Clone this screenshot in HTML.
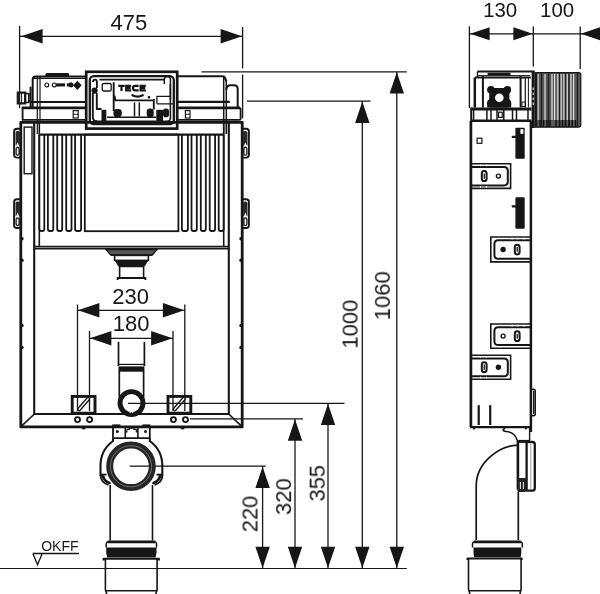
<!DOCTYPE html>
<html><head><meta charset="utf-8"><title>Drawing</title>
<style>
html,body{margin:0;padding:0;background:#fff;}
body{width:600px;height:594px;overflow:hidden;font-family:"Liberation Sans",sans-serif;}
svg{display:block;}
svg text{font-family:"Liberation Sans",sans-serif;will-change:transform;}
</style></head><body>
<svg width="600" height="594" viewBox="0 0 600 594">
<rect x="0" y="0" width="600" height="594" fill="#fff"/>
<line x1="19.6" y1="25.8" x2="19.6" y2="92" stroke="#161616" stroke-width="1.3" stroke-linecap="butt"/>
<line x1="242.6" y1="27" x2="242.6" y2="68.5" stroke="#161616" stroke-width="1.3" stroke-linecap="butt"/>
<line x1="242.6" y1="74.5" x2="242.6" y2="118.4" stroke="#161616" stroke-width="1.3" stroke-linecap="butt"/>
<line x1="19.6" y1="36.3" x2="242.6" y2="36.3" stroke="#161616" stroke-width="1.3" stroke-linecap="butt"/>
<polygon points="21.2,36.3 42.599999999999994,29.099999999999998 42.599999999999994,43.5" fill="#161616"/>
<polygon points="242,36.3 220.6,29.099999999999998 220.6,43.5" fill="#161616"/>
<text x="128.9" y="30" font-size="22" text-anchor="middle" font-weight="normal" letter-spacing="0" fill="#161616">475</text>
<path d="M32.7,107 V79.4 Q32.7,76.4 35.7,76.4 H86" fill="none" stroke="#161616" stroke-width="2" stroke-linejoin="round" stroke-linecap="butt"/>
<line x1="47" y1="74.7" x2="67.6" y2="74.7" stroke="#161616" stroke-width="3.4" stroke-linecap="round"/>
<line x1="37.3" y1="77" x2="37.3" y2="121" stroke="#161616" stroke-width="1.2" stroke-linecap="butt"/>
<line x1="40" y1="77" x2="40" y2="121" stroke="#161616" stroke-width="1.2" stroke-linecap="butt"/>
<line x1="30.6" y1="86.7" x2="30.6" y2="107" stroke="#161616" stroke-width="2" stroke-linecap="butt"/>
<line x1="30.5" y1="102" x2="86" y2="102" stroke="#161616" stroke-width="2.2" stroke-linecap="butt"/>
<line x1="33" y1="78.4" x2="86" y2="78.4" stroke="#161616" stroke-width="1.3" stroke-linecap="butt"/>
<rect x="17.8" y="92.6" width="7.4" height="10.8" rx="0" fill="none" stroke="#161616" stroke-width="2.2"/>
<line x1="19.6" y1="92" x2="19.6" y2="108" stroke="#161616" stroke-width="1.2" stroke-linecap="butt"/>
<line x1="21.6" y1="93" x2="21.6" y2="103" stroke="#161616" stroke-width="1" stroke-linecap="butt"/>
<rect x="25.2" y="93.6" width="3.6" height="8.8" rx="0" fill="none" stroke="#161616" stroke-width="1.6"/>
<line x1="28.8" y1="95" x2="30.6" y2="95" stroke="#161616" stroke-width="1.2" stroke-linecap="butt"/>
<line x1="28.8" y1="101" x2="30.6" y2="101" stroke="#161616" stroke-width="1.2" stroke-linecap="butt"/>
<circle cx="46.8" cy="84.9" r="1.9" fill="none" stroke="#161616" stroke-width="1.2"/>
<circle cx="54.3" cy="84.9" r="1.9" fill="none" stroke="#161616" stroke-width="1.2"/>
<line x1="56.2" y1="84.9" x2="65" y2="84.9" stroke="#161616" stroke-width="3.1" stroke-linecap="butt"/>
<line x1="66.8" y1="84.9" x2="73" y2="84.9" stroke="#161616" stroke-width="3.1" stroke-linecap="butt"/>
<circle cx="71" cy="84.9" r="2.2" fill="#161616" stroke="#161616" stroke-width="0.8"/>
<polygon points="73,85.3 77.4,80.8 81.6,85.3 77.4,90" fill="#161616"/>
<path d="M22.6,107.9 V119.9 H239.4 Q240.6,119.9 240.6,118.7 V109.1 Q240.6,107.9 239.4,107.9" fill="none" stroke="#161616" stroke-width="1.8" stroke-linejoin="round" stroke-linecap="butt"/>
<line x1="21.7" y1="107.9" x2="240" y2="107.9" stroke="#161616" stroke-width="2.6" stroke-linecap="butt"/>
<rect x="73.2" y="110.6" width="5" height="7.4" rx="0" fill="none" stroke="#161616" stroke-width="1.2"/>
<line x1="73.2" y1="114.3" x2="78.2" y2="114.3" stroke="#161616" stroke-width="1" stroke-linecap="butt"/>
<rect x="185.4" y="110.6" width="4.6" height="7.4" rx="0" fill="none" stroke="#161616" stroke-width="1.2"/>
<line x1="185.4" y1="114.3" x2="190" y2="114.3" stroke="#161616" stroke-width="1" stroke-linecap="butt"/>
<path d="M177,76.2 H222.6 Q224.4,76.2 225,78 L226.3,81 M226.3,90 Q226.3,85.3 230.5,85.3 H234 Q237.7,85.3 237.7,89 V107.5" fill="none" stroke="#161616" stroke-width="2" stroke-linejoin="round" stroke-linecap="butt"/>
<line x1="177" y1="101.8" x2="229.8" y2="101.8" stroke="#161616" stroke-width="2.2" stroke-linecap="butt"/>
<line x1="223.7" y1="77" x2="223.7" y2="134" stroke="#161616" stroke-width="1.5" stroke-linecap="butt"/>
<line x1="226.3" y1="80" x2="226.3" y2="134" stroke="#161616" stroke-width="1.5" stroke-linecap="butt"/>
<rect x="86.2" y="71.8" width="91" height="56.8" rx="0" fill="#fff" stroke="#161616" stroke-width="2.7"/>
<rect x="89.8" y="76.2" width="84" height="48" rx="4" fill="none" stroke="#161616" stroke-width="2.3"/>
<path d="M99.5,79.6 H164.5 M170.4,84 V118 Q170.4,121.3 167,121.3 H93 " fill="none" stroke="#161616" stroke-width="1.6" stroke-linejoin="round" stroke-linecap="butt"/>
<path d="M164.3,84 V79.6 Q164.3,76.4 167.4,76.4 Q170.4,76.4 170.4,80 V100" fill="none" stroke="#161616" stroke-width="1.5" stroke-linejoin="round" stroke-linecap="butt"/>
<path d="M93,82 Q93,79.6 95.2,79.6 Q96.9,79.6 96.9,82 V88 M92.8,93 V117 Q92.8,121.3 97,121.3 M96.8,93 V109 H101.5" fill="none" stroke="#161616" stroke-width="1.9" stroke-linejoin="round" stroke-linecap="butt"/>
<circle cx="94.6" cy="90.6" r="3.1" fill="#161616" stroke="#161616" stroke-width="0"/>
<rect x="102.2" y="83.5" width="9" height="7.5" rx="1.6" fill="none" stroke="#161616" stroke-width="1.3"/>
<rect x="101.5" y="109.8" width="4.8" height="13.6" rx="0" fill="#161616" stroke="#161616" stroke-width="0"/>
<path d="M113.7,82.2 V111 M113.7,95 L115.7,100.4 H153.8 M153.8,99 V109.5" fill="none" stroke="#161616" stroke-width="1.9" stroke-linejoin="round" stroke-linecap="butt"/>
<circle cx="114.6" cy="96.6" r="1.1" fill="#161616" stroke="#161616" stroke-width="0"/>
<rect x="113.4" y="109" width="8.4" height="8.2" rx="3.4" fill="#161616" stroke="#161616" stroke-width="0"/>
<line x1="107" y1="117.3" x2="156" y2="117.3" stroke="#161616" stroke-width="1.5" stroke-linecap="butt"/>
<line x1="134.5" y1="102.4" x2="134.5" y2="116.5" stroke="#161616" stroke-width="1.5" stroke-linecap="butt"/>
<line x1="139.3" y1="102.4" x2="139.3" y2="116.5" stroke="#161616" stroke-width="1.5" stroke-linecap="butt"/>
<rect x="146.7" y="108.6" width="7" height="8.6" rx="3.2" fill="#161616" stroke="#161616" stroke-width="0"/>
<path d="M118.3,85.8 H124.7 M121.5,85.8 V91.1 M131.2,85.8 H126.2 V90.3 H131.2 M126.2,88 H130.6 M138.6,85.8 H135.2 Q133,85.8 133,88 Q133,90.3 135.2,90.3 H138.6 M145.8,85.8 H140.6 V90.3 H145.8 M140.6,88 H145.2" fill="none" stroke="#161616" stroke-width="2.2" stroke-linejoin="miter" stroke-linecap="butt"/>
<path d="M132.4,95.2 Q137.6,97.9 142.8,95.2" fill="none" stroke="#161616" stroke-width="2.2" stroke-linejoin="round" stroke-linecap="round"/>
<circle cx="149" cy="97.3" r="1.3" fill="#161616" stroke="#161616" stroke-width="0"/>
<path d="M156.9,103.8 V96.3 H170.4 M156.9,103.8 H173" fill="none" stroke="#161616" stroke-width="1.3" stroke-linejoin="round" stroke-linecap="butt"/>
<rect x="156.3" y="109.8" width="6.7" height="14.6" rx="0" fill="#161616" stroke="#161616" stroke-width="0"/>
<rect x="163" y="108.6" width="6" height="8.6" rx="2.8" fill="#161616" stroke="#161616" stroke-width="0"/>
<path d="M20.8,426.9 V122.3 H242.2 V426.9 Z" fill="none" stroke="#161616" stroke-width="2.8" stroke-linejoin="round" stroke-linecap="butt"/>
<path d="M34.2,122 V414 H228.8 V122" fill="none" stroke="#161616" stroke-width="2.1" stroke-linejoin="miter" stroke-linecap="butt"/>
<line x1="20.7" y1="426.9" x2="34.4" y2="414" stroke="#161616" stroke-width="1.7" stroke-linecap="butt"/>
<line x1="242.3" y1="426.9" x2="228.7" y2="414" stroke="#161616" stroke-width="1.7" stroke-linecap="butt"/>
<rect x="24.2" y="127.1" width="7.8" height="46.6" rx="0" fill="none" stroke="#161616" stroke-width="1.4"/>
<circle cx="22" cy="238.8" r="1.7" fill="#161616" stroke="#161616" stroke-width="0"/>
<circle cx="241" cy="238.8" r="1.7" fill="#161616" stroke="#161616" stroke-width="0"/>
<circle cx="22" cy="260.3" r="1.7" fill="#161616" stroke="#161616" stroke-width="0"/>
<circle cx="241" cy="260.3" r="1.7" fill="#161616" stroke="#161616" stroke-width="0"/>
<circle cx="22" cy="325.5" r="1.7" fill="#161616" stroke="#161616" stroke-width="0"/>
<circle cx="241" cy="325.5" r="1.7" fill="#161616" stroke="#161616" stroke-width="0"/>
<circle cx="22" cy="347.5" r="1.7" fill="#161616" stroke="#161616" stroke-width="0"/>
<circle cx="241" cy="347.5" r="1.7" fill="#161616" stroke="#161616" stroke-width="0"/>
<path d="M20.7,128.8 H16.9 Q14.1,128.8 14.1,131.60000000000002 V154.8 Q14.1,157.60000000000002 16.9,157.60000000000002 H20.7" fill="none" stroke="#161616" stroke-width="1.9" stroke-linejoin="round" stroke-linecap="butt"/>
<rect x="15.5" y="131.0" width="4.6" height="15.6" rx="1.8" fill="#2a2a2a" stroke="#161616" stroke-width="0"/>
<polygon points="19.3,146.60000000000002 15.899999999999999,146.60000000000002 17.599999999999998,142.20000000000002" fill="#fff"/>
<rect x="16.1" y="147.4" width="3.0" height="7.8" rx="1.5" fill="none" stroke="#161616" stroke-width="1.3"/>
<path d="M242.3,128.8 H246.1 Q248.9,128.8 248.9,131.60000000000002 V154.8 Q248.9,157.60000000000002 246.1,157.60000000000002 H242.3" fill="none" stroke="#161616" stroke-width="1.9" stroke-linejoin="round" stroke-linecap="butt"/>
<rect x="242.9" y="131.0" width="4.6" height="15.6" rx="1.8" fill="#2a2a2a" stroke="#161616" stroke-width="0"/>
<polygon points="243.70000000000002,146.60000000000002 247.10000000000002,146.60000000000002 245.4,142.20000000000002" fill="#fff"/>
<rect x="243.9" y="147.4" width="3.0" height="7.8" rx="1.5" fill="none" stroke="#161616" stroke-width="1.3"/>
<path d="M20.7,199.2 H16.9 Q14.1,199.2 14.1,202.0 V225.2 Q14.1,228.0 16.9,228.0 H20.7" fill="none" stroke="#161616" stroke-width="1.9" stroke-linejoin="round" stroke-linecap="butt"/>
<rect x="15.5" y="201.39999999999998" width="4.6" height="15.6" rx="1.8" fill="#2a2a2a" stroke="#161616" stroke-width="0"/>
<polygon points="19.3,217.0 15.899999999999999,217.0 17.599999999999998,212.6" fill="#fff"/>
<rect x="16.1" y="217.79999999999998" width="3.0" height="7.8" rx="1.5" fill="none" stroke="#161616" stroke-width="1.3"/>
<path d="M242.3,199.2 H246.1 Q248.9,199.2 248.9,202.0 V225.2 Q248.9,228.0 246.1,228.0 H242.3" fill="none" stroke="#161616" stroke-width="1.9" stroke-linejoin="round" stroke-linecap="butt"/>
<rect x="242.9" y="201.39999999999998" width="4.6" height="15.6" rx="1.8" fill="#2a2a2a" stroke="#161616" stroke-width="0"/>
<polygon points="243.70000000000002,217.0 247.10000000000002,217.0 245.4,212.6" fill="#fff"/>
<rect x="243.9" y="217.79999999999998" width="3.0" height="7.8" rx="1.5" fill="none" stroke="#161616" stroke-width="1.3"/>
<line x1="39.3" y1="134.6" x2="223.7" y2="134.6" stroke="#161616" stroke-width="2.2" stroke-linecap="butt"/>
<line x1="37.3" y1="122" x2="37.3" y2="134" stroke="#161616" stroke-width="1.2" stroke-linecap="butt"/>
<line x1="39.3" y1="122" x2="39.3" y2="247" stroke="#161616" stroke-width="1.6" stroke-linecap="butt"/>
<line x1="223.7" y1="122" x2="223.7" y2="247" stroke="#161616" stroke-width="1.6" stroke-linecap="butt"/>
<line x1="226.5" y1="122" x2="226.5" y2="134" stroke="#161616" stroke-width="1.2" stroke-linecap="butt"/>
<path d="M39.3,134.6 V229 Q39.3,231 41.3,231 H42.3 Q44.3,231 44.3,229 V134.6" fill="none" stroke="#161616" stroke-width="1.8" stroke-linejoin="round" stroke-linecap="butt"/>
<path d="M218.7,134.6 V229 Q218.7,231 220.7,231 H221.7 Q223.7,231 223.7,229 V134.6" fill="none" stroke="#161616" stroke-width="1.8" stroke-linejoin="round" stroke-linecap="butt"/>
<path d="M47.9,134.6 V229 Q47.9,231 49.9,231 H51.3 Q53.3,231 53.3,229 V134.6" fill="none" stroke="#161616" stroke-width="1.8" stroke-linejoin="round" stroke-linecap="butt"/>
<path d="M209.7,134.6 V229 Q209.7,231 211.7,231 H213.1 Q215.1,231 215.1,229 V134.6" fill="none" stroke="#161616" stroke-width="1.8" stroke-linejoin="round" stroke-linecap="butt"/>
<path d="M57.2,134.6 V229 Q57.2,231 59.2,231 H60.2 Q62.2,231 62.2,229 V134.6" fill="none" stroke="#161616" stroke-width="1.8" stroke-linejoin="round" stroke-linecap="butt"/>
<path d="M200.8,134.6 V229 Q200.8,231 202.8,231 H203.8 Q205.8,231 205.8,229 V134.6" fill="none" stroke="#161616" stroke-width="1.8" stroke-linejoin="round" stroke-linecap="butt"/>
<path d="M66.2,134.6 V229 Q66.2,231 68.2,231 H69.5 Q71.5,231 71.5,229 V134.6" fill="none" stroke="#161616" stroke-width="1.8" stroke-linejoin="round" stroke-linecap="butt"/>
<path d="M191.5,134.6 V229 Q191.5,231 193.5,231 H194.8 Q196.8,231 196.8,229 V134.6" fill="none" stroke="#161616" stroke-width="1.8" stroke-linejoin="round" stroke-linecap="butt"/>
<path d="M75.1,134.6 V229 Q75.1,231 77.1,231 H79.1 Q81.1,231 81.1,229 V134.6" fill="none" stroke="#161616" stroke-width="1.8" stroke-linejoin="round" stroke-linecap="butt"/>
<path d="M181.9,134.6 V229 Q181.9,231 183.9,231 H185.9 Q187.9,231 187.9,229 V134.6" fill="none" stroke="#161616" stroke-width="1.8" stroke-linejoin="round" stroke-linecap="butt"/>
<rect x="84.8" y="134.6" width="93.6" height="96.6" rx="0" fill="none" stroke="#161616" stroke-width="1.8"/>
<line x1="34.3" y1="246.6" x2="228.7" y2="246.6" stroke="#161616" stroke-width="1.6" stroke-linecap="butt"/>
<line x1="34.3" y1="248.7" x2="228.7" y2="248.7" stroke="#161616" stroke-width="1.4" stroke-linecap="butt"/>
<path d="M105.7,249.2 H157.3 L153.6,253.6 Q152.8,255 151,255 H112 Q110.2,255 109.4,253.6 Z" fill="#555" stroke="#161616" stroke-width="1.2" stroke-linejoin="round" stroke-linecap="butt"/>
<line x1="105.5" y1="249.4" x2="157.5" y2="249.4" stroke="#161616" stroke-width="1.6" stroke-linecap="butt"/>
<line x1="110.5" y1="255.2" x2="152.5" y2="255.2" stroke="#161616" stroke-width="1.6" stroke-linecap="butt"/>
<rect x="114.6" y="255.4" width="33.8" height="5" rx="0" fill="#fff" stroke="#161616" stroke-width="1.6"/>
<polygon points="114.4,260.3 148.6,260.3 144,267.3 119,267.3" fill="#161616"/>
<path d="M119.6,267 V277.6 M143.6,267 V277.6" fill="none" stroke="#161616" stroke-width="1.6" stroke-linejoin="round" stroke-linecap="butt"/>
<path d="M117.6,280 V278 H145.4 V280" fill="none" stroke="#161616" stroke-width="1.8" stroke-linejoin="round" stroke-linecap="butt"/>
<line x1="77.5" y1="304.5" x2="77.5" y2="411" stroke="#161616" stroke-width="1.3" stroke-linecap="butt"/>
<line x1="184.8" y1="304.5" x2="184.8" y2="411" stroke="#161616" stroke-width="1.3" stroke-linecap="butt"/>
<line x1="77.5" y1="310.3" x2="184.8" y2="310.3" stroke="#161616" stroke-width="1.3" stroke-linecap="butt"/>
<polygon points="78,310.3 99.4,303.1 99.4,317.5" fill="#161616"/>
<polygon points="184.3,310.3 162.9,303.1 162.9,317.5" fill="#161616"/>
<text x="130.7" y="303.7" font-size="22" text-anchor="middle" font-weight="normal" letter-spacing="0" fill="#161616">230</text>
<line x1="89.5" y1="331" x2="89.5" y2="411" stroke="#161616" stroke-width="1.3" stroke-linecap="butt"/>
<line x1="173" y1="331" x2="173" y2="411" stroke="#161616" stroke-width="1.3" stroke-linecap="butt"/>
<line x1="89.5" y1="338.3" x2="173" y2="338.3" stroke="#161616" stroke-width="1.3" stroke-linecap="butt"/>
<polygon points="90,338.3 111.4,331.1 111.4,345.5" fill="#161616"/>
<polygon points="172.5,338.3 151.1,331.1 151.1,345.5" fill="#161616"/>
<text x="131.1" y="331" font-size="22" text-anchor="middle" font-weight="normal" letter-spacing="0" fill="#161616">180</text>
<path d="M118.5,341.8 V366 M144.4,341.8 V366 M119.3,371 V397.5 M143.6,371 V397.5" fill="none" stroke="#161616" stroke-width="1.7" stroke-linejoin="round" stroke-linecap="butt"/>
<rect x="118.5" y="366.4" width="25.9" height="5.3" rx="0" fill="#161616" stroke="#161616" stroke-width="0"/>
<line x1="118.5" y1="364.4" x2="144.4" y2="364.4" stroke="#161616" stroke-width="1.2" stroke-linecap="butt"/>
<circle cx="131.5" cy="403.1" r="11.5" fill="none" stroke="#161616" stroke-width="4.9"/>
<path d="M129.6,412.6 h1 v-1.1 h1.8 v1.1 h1" fill="none" stroke="#fff" stroke-width="0.9" stroke-linejoin="round" stroke-linecap="butt"/>
<rect x="72.2" y="396.4" width="22.799999999999997" height="16.8" rx="0" fill="none" stroke="#161616" stroke-width="2.9"/>
<line x1="79.2" y1="409.2" x2="88.2" y2="398.8" stroke="#161616" stroke-width="4.2" stroke-linecap="round"/>
<line x1="79.2" y1="409.2" x2="88.2" y2="398.8" stroke="#fff" stroke-width="1.3" stroke-linecap="round"/>
<circle cx="77.5" cy="419.6" r="2.5" fill="none" stroke="#161616" stroke-width="1.9"/>
<circle cx="89.6" cy="419.6" r="2.5" fill="none" stroke="#161616" stroke-width="1.9"/>
<path d="M82,427.5 q1.6,2.6 3.2,0" fill="#161616" stroke="#161616" stroke-width="1.6" stroke-linejoin="round" stroke-linecap="butt"/>
<rect x="168.0" y="396.4" width="22.80000000000001" height="16.8" rx="0" fill="none" stroke="#161616" stroke-width="2.9"/>
<line x1="174.8" y1="409.2" x2="183.8" y2="398.8" stroke="#161616" stroke-width="4.2" stroke-linecap="round"/>
<line x1="174.8" y1="409.2" x2="183.8" y2="398.8" stroke="#fff" stroke-width="1.3" stroke-linecap="round"/>
<circle cx="185.5" cy="419.6" r="2.5" fill="none" stroke="#161616" stroke-width="1.9"/>
<circle cx="173.4" cy="419.6" r="2.5" fill="none" stroke="#161616" stroke-width="1.9"/>
<path d="M181.0,427.5 q1.6,2.6 3.2,0" fill="#161616" stroke="#161616" stroke-width="1.6" stroke-linejoin="round" stroke-linecap="butt"/>
<line x1="128" y1="403.3" x2="344.5" y2="403.3" stroke="#161616" stroke-width="1.3" stroke-linecap="butt"/>
<line x1="190" y1="418.9" x2="303" y2="418.9" stroke="#161616" stroke-width="1.3" stroke-linecap="butt"/>
<line x1="129.6" y1="466.2" x2="265.8" y2="466.2" stroke="#161616" stroke-width="1.3" stroke-linecap="butt"/>
<path d="M113,426 V438.2 H149.8 V426" fill="none" stroke="#161616" stroke-width="1.8" stroke-linejoin="miter" stroke-linecap="butt"/>
<line x1="125.3" y1="427" x2="125.3" y2="438.2" stroke="#161616" stroke-width="1.6" stroke-linecap="butt"/>
<line x1="137.9" y1="427" x2="137.9" y2="438.2" stroke="#161616" stroke-width="1.6" stroke-linecap="butt"/>
<path d="M125.3,432 h1.6 v-2.6 h2.4 v-1.2 h4.6 v1.2 h2.4 v2.6 h1.6" fill="none" stroke="#161616" stroke-width="1.2" stroke-linejoin="round" stroke-linecap="butt"/>
<circle cx="117.3" cy="431.6" r="1.5" fill="#161616" stroke="#161616" stroke-width="0"/>
<circle cx="145.5" cy="431.6" r="1.5" fill="#161616" stroke="#161616" stroke-width="0"/>
<line x1="112.3" y1="425.4" x2="120.4" y2="425.4" stroke="#161616" stroke-width="2" stroke-linecap="butt"/>
<line x1="142.4" y1="425.4" x2="150.3" y2="425.4" stroke="#161616" stroke-width="2" stroke-linecap="butt"/>
<path d="M100.5,476 V467 A31,31 0 0 1 113,441 V438.2 M149.8,438.2 V441 A31,31 0 0 1 162.3,467 V476" fill="none" stroke="#161616" stroke-width="2.1" stroke-linejoin="round" stroke-linecap="butt"/>
<path d="M100.5,474.6 H106.5" fill="none" stroke="#161616" stroke-width="1.8" stroke-linejoin="round" stroke-linecap="butt"/>
<path d="M100.5,475 Q100.8,482.5 108.5,485" fill="none" stroke="#161616" stroke-width="1.8" stroke-linejoin="round" stroke-linecap="butt"/>
<path d="M103.2,476.5 Q104,481 109.5,483" fill="none" stroke="#161616" stroke-width="2.6" stroke-linejoin="round" stroke-linecap="round"/>
<circle cx="102.8" cy="476.6" r="1.5" fill="#161616" stroke="#161616" stroke-width="0"/>
<path d="M162.5,474.6 H156.5" fill="none" stroke="#161616" stroke-width="1.8" stroke-linejoin="round" stroke-linecap="butt"/>
<path d="M162.5,475 Q162.2,482.5 154.5,485" fill="none" stroke="#161616" stroke-width="1.8" stroke-linejoin="round" stroke-linecap="butt"/>
<path d="M159.8,476.5 Q159.0,481 153.5,483" fill="none" stroke="#161616" stroke-width="2.6" stroke-linejoin="round" stroke-linecap="round"/>
<circle cx="160.2" cy="476.6" r="1.5" fill="#161616" stroke="#161616" stroke-width="0"/>
<circle cx="131" cy="466.3" r="21.3" fill="none" stroke="#262626" stroke-width="7"/>
<circle cx="131" cy="466.3" r="20.6" fill="none" stroke="#8c8c8c" stroke-width="0.7"/>
<path d="M110.2,485 V540.6 M152.5,485 V540.6" fill="none" stroke="#161616" stroke-width="1.6" stroke-linejoin="round" stroke-linecap="butt"/>
<path d="M107.60000000000001,541.9 H155.1" fill="none" stroke="#161616" stroke-width="2.8" stroke-linejoin="round" stroke-linecap="butt"/>
<path d="M107.8,541.8 Q106.2,542 106.2,544 V547.6 M154.9,541.8 Q156.5,542 156.5,544 V547.6" fill="none" stroke="#161616" stroke-width="1.5" stroke-linejoin="round" stroke-linecap="butt"/>
<polygon points="106.2,547.6 156.5,547.6 156.5,553 155.5,557.4 107.2,557.4 106.2,553" fill="#161616"/>
<path d="M103.60000000000001,560.4 V558.8 H158.9 V560.4" fill="none" stroke="#161616" stroke-width="2" stroke-linejoin="round" stroke-linecap="butt"/>
<path d="M105.4,559 V590 L106.8,594 M157.1,559 V590 L155.7,594" fill="none" stroke="#161616" stroke-width="1.6" stroke-linejoin="round" stroke-linecap="butt"/>
<line x1="105.4" y1="590.8" x2="157.1" y2="590.8" stroke="#161616" stroke-width="1.4" stroke-linecap="butt"/>
<line x1="0" y1="568.5" x2="406.8" y2="568.5" stroke="#161616" stroke-width="1.2" stroke-linecap="butt"/>
<path d="M32.7,553.5 H79 M33,553.7 L37.5,564.8 L42.1,553.7" fill="none" stroke="#161616" stroke-width="1.3" stroke-linejoin="miter" stroke-linecap="butt"/>
<text x="41.2" y="551.1" font-size="14" text-anchor="start" font-weight="normal" letter-spacing="0" fill="#161616">OKFF</text>
<line x1="262.6" y1="466.3" x2="262.6" y2="568.5" stroke="#161616" stroke-width="1.3" stroke-linecap="butt"/>
<polygon points="262.6,466.7 255.40000000000003,488.09999999999997 269.8,488.09999999999997" fill="#161616"/>
<polygon points="262.6,568.1 255.40000000000003,546.7 269.8,546.7" fill="#161616"/>
<text x="257.5" y="514" font-size="22" text-anchor="middle" font-weight="normal" letter-spacing="0" fill="#161616" transform="rotate(-90 257.5 514)">220</text>
<line x1="295" y1="418.9" x2="295" y2="568.5" stroke="#161616" stroke-width="1.3" stroke-linecap="butt"/>
<polygon points="295,419.29999999999995 287.8,440.69999999999993 302.2,440.69999999999993" fill="#161616"/>
<polygon points="295,568.1 287.8,546.7 302.2,546.7" fill="#161616"/>
<text x="290.8" y="496.7" font-size="22" text-anchor="middle" font-weight="normal" letter-spacing="0" fill="#161616" transform="rotate(-90 290.8 496.7)">320</text>
<line x1="328" y1="403.3" x2="328" y2="568.5" stroke="#161616" stroke-width="1.3" stroke-linecap="butt"/>
<polygon points="328,403.7 320.8,425.09999999999997 335.2,425.09999999999997" fill="#161616"/>
<polygon points="328,568.1 320.8,546.7 335.2,546.7" fill="#161616"/>
<text x="325" y="483.3" font-size="22" text-anchor="middle" font-weight="normal" letter-spacing="0" fill="#161616" transform="rotate(-90 325 483.3)">355</text>
<line x1="362.3" y1="101.1" x2="362.3" y2="568.5" stroke="#161616" stroke-width="1.3" stroke-linecap="butt"/>
<polygon points="362.3,101.5 355.1,122.9 369.5,122.9" fill="#161616"/>
<polygon points="362.3,568.1 355.1,546.7 369.5,546.7" fill="#161616"/>
<text x="357.9" y="324.3" font-size="22" text-anchor="middle" font-weight="normal" letter-spacing="0" fill="#161616" transform="rotate(-90 357.9 324.3)">1000</text>
<line x1="396.8" y1="71.8" x2="396.8" y2="568.5" stroke="#161616" stroke-width="1.3" stroke-linecap="butt"/>
<polygon points="396.8,72.2 389.6,93.6 404.0,93.6" fill="#161616"/>
<polygon points="396.8,568.1 389.6,546.7 404.0,546.7" fill="#161616"/>
<text x="389.7" y="295.8" font-size="22" text-anchor="middle" font-weight="normal" letter-spacing="0" fill="#161616" transform="rotate(-90 389.7 295.8)">1060</text>
<line x1="201.5" y1="71.8" x2="406.8" y2="71.8" stroke="#161616" stroke-width="1.3" stroke-linecap="butt"/>
<line x1="247" y1="101.1" x2="370.5" y2="101.1" stroke="#161616" stroke-width="1.3" stroke-linecap="butt"/>
<line x1="469.4" y1="26.3" x2="469.4" y2="108" stroke="#161616" stroke-width="1.3" stroke-linecap="butt"/>
<line x1="533.3" y1="26.6" x2="533.3" y2="66.6" stroke="#161616" stroke-width="1.3" stroke-linecap="butt"/>
<line x1="580.2" y1="26.6" x2="580.2" y2="69" stroke="#161616" stroke-width="1.3" stroke-linecap="butt"/>
<line x1="469.6" y1="33.8" x2="600" y2="33.8" stroke="#161616" stroke-width="1.3" stroke-linecap="butt"/>
<polygon points="470.2,33.8 489.59999999999997,27.299999999999997 489.59999999999997,40.3" fill="#161616"/>
<polygon points="532.8,33.8 513.4,27.299999999999997 513.4,40.3" fill="#161616"/>
<polygon points="580.8,33.8 600.1999999999999,27.299999999999997 600.1999999999999,40.3" fill="#161616"/>
<text x="500.2" y="17.3" font-size="20.4" text-anchor="middle" font-weight="normal" letter-spacing="0" fill="#161616">130</text>
<text x="557.1" y="17.3" font-size="20.4" text-anchor="middle" font-weight="normal" letter-spacing="0" fill="#161616">100</text>
<line x1="477.5" y1="71.5" x2="534.7" y2="71.5" stroke="#161616" stroke-width="2.2" stroke-linecap="butt"/>
<line x1="477.5" y1="75.6" x2="530" y2="75.6" stroke="#161616" stroke-width="1" stroke-linecap="butt"/>
<line x1="487.6" y1="74" x2="510.5" y2="74" stroke="#161616" stroke-width="2.6" stroke-linecap="butt"/>
<path d="M477.5,71.5 V77.5" fill="none" stroke="#161616" stroke-width="1.4" stroke-linejoin="round" stroke-linecap="butt"/>
<line x1="474.8" y1="77.6" x2="530.7" y2="77.6" stroke="#161616" stroke-width="2" stroke-linecap="butt"/>
<line x1="474.8" y1="77.6" x2="474.8" y2="107.5" stroke="#161616" stroke-width="2.5" stroke-linecap="butt"/>
<line x1="482.9" y1="76" x2="482.9" y2="107.5" stroke="#161616" stroke-width="2" stroke-linecap="butt"/>
<line x1="520.6" y1="76" x2="520.6" y2="107.5" stroke="#161616" stroke-width="2" stroke-linecap="butt"/>
<line x1="525.3" y1="78" x2="525.3" y2="107.5" stroke="#161616" stroke-width="1.2" stroke-linecap="butt"/>
<line x1="528.4" y1="78" x2="528.4" y2="107.5" stroke="#161616" stroke-width="1.0" stroke-linecap="butt"/>
<rect x="522" y="102" width="3.3" height="4.5" rx="0" fill="none" stroke="#161616" stroke-width="1"/>
<circle cx="490.9" cy="89.8" r="3.8" fill="#161616" stroke="#161616" stroke-width="0"/>
<circle cx="507.3" cy="89.8" r="3.8" fill="#161616" stroke="#161616" stroke-width="0"/>
<circle cx="491.2" cy="103" r="4.1" fill="#161616" stroke="#161616" stroke-width="0"/>
<circle cx="507.1" cy="103" r="4.1" fill="#161616" stroke="#161616" stroke-width="0"/>
<rect x="489.2" y="88" width="20.2" height="19.4" rx="2" fill="#161616" stroke="#161616" stroke-width="0"/>
<rect x="487.2" y="102.5" width="24" height="5" rx="0" fill="#161616" stroke="#161616" stroke-width="0"/>
<circle cx="499.3" cy="97.8" r="4.3" fill="#fff" stroke="#161616" stroke-width="0"/>
<line x1="471.2" y1="109" x2="531.5" y2="109" stroke="#161616" stroke-width="2.8" stroke-linecap="butt"/>
<line x1="471.2" y1="120.8" x2="531.5" y2="120.8" stroke="#161616" stroke-width="2.4" stroke-linecap="butt"/>
<line x1="471.2" y1="107.6" x2="471.2" y2="122" stroke="#161616" stroke-width="2" stroke-linecap="butt"/>
<line x1="473.6" y1="110" x2="473.6" y2="120" stroke="#161616" stroke-width="1.5" stroke-linecap="butt"/>
<line x1="486.9" y1="110" x2="486.9" y2="120" stroke="#161616" stroke-width="1.5" stroke-linecap="butt"/>
<line x1="491" y1="110" x2="491" y2="120" stroke="#161616" stroke-width="1.5" stroke-linecap="butt"/>
<line x1="497" y1="110" x2="497" y2="120" stroke="#161616" stroke-width="1.5" stroke-linecap="butt"/>
<line x1="503.8" y1="110" x2="503.8" y2="120" stroke="#161616" stroke-width="1.5" stroke-linecap="butt"/>
<line x1="512.5" y1="110" x2="512.5" y2="120" stroke="#161616" stroke-width="1.5" stroke-linecap="butt"/>
<line x1="516.5" y1="110" x2="516.5" y2="120" stroke="#161616" stroke-width="1.5" stroke-linecap="butt"/>
<line x1="528" y1="110" x2="528" y2="120" stroke="#161616" stroke-width="1.5" stroke-linecap="butt"/>
<rect x="498.6" y="112.2" width="3.6" height="5.2" rx="0" fill="none" stroke="#161616" stroke-width="1.2"/>
<line x1="533.2" y1="71.5" x2="533.2" y2="128" stroke="#161616" stroke-width="3.2" stroke-linecap="butt"/>
<line x1="533.2" y1="87.5" x2="533.2" y2="90.1" stroke="#e8e8e8" stroke-width="1.1" stroke-linecap="butt"/>
<line x1="533.2" y1="92.5" x2="533.2" y2="95.1" stroke="#e8e8e8" stroke-width="1.1" stroke-linecap="butt"/>
<line x1="533.2" y1="97.5" x2="533.2" y2="100.1" stroke="#e8e8e8" stroke-width="1.1" stroke-linecap="butt"/>
<line x1="533.2" y1="102.5" x2="533.2" y2="105.1" stroke="#e8e8e8" stroke-width="1.1" stroke-linecap="butt"/>
<path d="M535.5,72.6 H578.6 Q580.8,72.6 580.8,74.8 V125 Q580.8,127.2 578.6,127.2 H535.5 Z" fill="#585858" stroke="#161616" stroke-width="1.2" stroke-linejoin="round" stroke-linecap="butt"/>
<line x1="538.1" y1="74" x2="538.1" y2="120" stroke="#e2e2e2" stroke-width="1.2" stroke-linecap="butt"/>
<line x1="545" y1="74" x2="545" y2="120" stroke="#e2e2e2" stroke-width="1.2" stroke-linecap="butt"/>
<line x1="552" y1="74" x2="552" y2="120" stroke="#e2e2e2" stroke-width="1.2" stroke-linecap="butt"/>
<line x1="554.6" y1="74" x2="554.6" y2="120" stroke="#e2e2e2" stroke-width="1.2" stroke-linecap="butt"/>
<line x1="557.8" y1="74" x2="557.8" y2="120" stroke="#e2e2e2" stroke-width="1.2" stroke-linecap="butt"/>
<line x1="561.1" y1="74" x2="561.1" y2="120" stroke="#e2e2e2" stroke-width="1.2" stroke-linecap="butt"/>
<line x1="563.9" y1="74" x2="563.9" y2="120" stroke="#e2e2e2" stroke-width="1.2" stroke-linecap="butt"/>
<line x1="567.2" y1="74" x2="567.2" y2="120" stroke="#e2e2e2" stroke-width="1.2" stroke-linecap="butt"/>
<line x1="570.9" y1="74" x2="570.9" y2="120" stroke="#e2e2e2" stroke-width="1.2" stroke-linecap="butt"/>
<line x1="573.6" y1="74" x2="573.6" y2="120" stroke="#e2e2e2" stroke-width="1.2" stroke-linecap="butt"/>
<line x1="536.6" y1="73.2" x2="536.6" y2="126.6" stroke="#1c1c1c" stroke-width="1.2" stroke-linecap="butt"/>
<line x1="541.5" y1="73.2" x2="541.5" y2="126.6" stroke="#1c1c1c" stroke-width="1.2" stroke-linecap="butt"/>
<line x1="548.5" y1="73.2" x2="548.5" y2="126.6" stroke="#1c1c1c" stroke-width="1.2" stroke-linecap="butt"/>
<line x1="559.5" y1="73.2" x2="559.5" y2="126.6" stroke="#1c1c1c" stroke-width="1.2" stroke-linecap="butt"/>
<line x1="565.5" y1="73.2" x2="565.5" y2="126.6" stroke="#1c1c1c" stroke-width="1.2" stroke-linecap="butt"/>
<line x1="569" y1="73.2" x2="569" y2="126.6" stroke="#1c1c1c" stroke-width="1.2" stroke-linecap="butt"/>
<line x1="577.5" y1="73.2" x2="577.5" y2="126.6" stroke="#1c1c1c" stroke-width="1.2" stroke-linecap="butt"/>
<line x1="540" y1="120" x2="540" y2="127" stroke="#111" stroke-width="1.4" stroke-linecap="butt"/>
<line x1="543.5" y1="120" x2="543.5" y2="127" stroke="#111" stroke-width="1.4" stroke-linecap="butt"/>
<line x1="547" y1="120" x2="547" y2="127" stroke="#111" stroke-width="1.4" stroke-linecap="butt"/>
<line x1="550" y1="120" x2="550" y2="127" stroke="#111" stroke-width="1.4" stroke-linecap="butt"/>
<line x1="556" y1="120" x2="556" y2="127" stroke="#111" stroke-width="1.4" stroke-linecap="butt"/>
<line x1="559.5" y1="120" x2="559.5" y2="127" stroke="#111" stroke-width="1.4" stroke-linecap="butt"/>
<line x1="562.5" y1="120" x2="562.5" y2="127" stroke="#111" stroke-width="1.4" stroke-linecap="butt"/>
<line x1="565.5" y1="120" x2="565.5" y2="127" stroke="#111" stroke-width="1.4" stroke-linecap="butt"/>
<line x1="569" y1="120" x2="569" y2="127" stroke="#111" stroke-width="1.4" stroke-linecap="butt"/>
<line x1="572.2" y1="120" x2="572.2" y2="127" stroke="#111" stroke-width="1.4" stroke-linecap="butt"/>
<line x1="575.5" y1="120" x2="575.5" y2="127" stroke="#111" stroke-width="1.4" stroke-linecap="butt"/>
<line x1="470.9" y1="121" x2="470.9" y2="427" stroke="#161616" stroke-width="2.7" stroke-linecap="butt"/>
<line x1="530.9" y1="121" x2="530.9" y2="432" stroke="#161616" stroke-width="2.5" stroke-linecap="butt"/>
<line x1="470" y1="427.2" x2="531" y2="427.2" stroke="#161616" stroke-width="2.2" stroke-linecap="butt"/>
<rect x="477.1" y="138.2" width="4.8" height="5.1" rx="0" fill="none" stroke="#161616" stroke-width="1.2"/>
<rect x="515.4" y="127.8" width="9.3" height="31.000000000000014" rx="0.8" fill="#161616" stroke="#161616" stroke-width="0"/>
<rect x="520.4" y="129.2" width="3" height="4.6" rx="0" fill="#fff" stroke="#161616" stroke-width="0"/>
<rect x="511.6" y="135.8" width="5" height="2.2" rx="1" fill="#161616" stroke="#161616" stroke-width="0"/>
<rect x="515.4" y="197.2" width="9.3" height="31.600000000000023" rx="0.8" fill="#161616" stroke="#161616" stroke-width="0"/>
<rect x="511.6" y="205.2" width="5" height="2.2" rx="1" fill="#161616" stroke="#161616" stroke-width="0"/>
<path d="M471,163.8 H510.6 V188.4 H471" fill="none" stroke="#161616" stroke-width="1.6" stroke-linejoin="miter" stroke-linecap="butt"/>
<path d="M471,167.0 H504 Q507.8,167.0 507.8,170.8 V181.6 Q507.8,185.4 504,185.4 H471" fill="none" stroke="#161616" stroke-width="2" stroke-linejoin="round" stroke-linecap="butt"/>
<line x1="480.5" y1="164.60000000000002" x2="480.5" y2="166.20000000000002" stroke="#fff" stroke-width="1.2" stroke-linecap="butt"/>
<line x1="480.5" y1="186.0" x2="480.5" y2="187.6" stroke="#fff" stroke-width="1.2" stroke-linecap="butt"/>
<line x1="486.5" y1="164.60000000000002" x2="486.5" y2="166.20000000000002" stroke="#fff" stroke-width="1.2" stroke-linecap="butt"/>
<line x1="486.5" y1="186.0" x2="486.5" y2="187.6" stroke="#fff" stroke-width="1.2" stroke-linecap="butt"/>
<rect x="481.8" y="171.10000000000002" width="4.8" height="10" rx="2.4" fill="none" stroke="#161616" stroke-width="2"/>
<line x1="484.2" y1="173.50000000000003" x2="484.2" y2="178.70000000000002" stroke="#161616" stroke-width="1.3" stroke-linecap="butt"/>
<circle cx="498.4" cy="176.10000000000002" r="2.0" fill="none" stroke="#161616" stroke-width="1.4"/>
<path d="M530.9,237 H490.8 V261.9 H530.9" fill="none" stroke="#161616" stroke-width="1.6" stroke-linejoin="miter" stroke-linecap="butt"/>
<path d="M530.9,240.2 H498.2 Q494.4,240.2 494.4,244 V254.89999999999998 Q494.4,258.7 498.2,258.7 H530.9" fill="none" stroke="#161616" stroke-width="2" stroke-linejoin="round" stroke-linecap="butt"/>
<line x1="512" y1="237.8" x2="512" y2="239.4" stroke="#fff" stroke-width="1.2" stroke-linecap="butt"/>
<line x1="518" y1="237.8" x2="518" y2="239.4" stroke="#fff" stroke-width="1.2" stroke-linecap="butt"/>
<line x1="524" y1="237.8" x2="524" y2="239.4" stroke="#fff" stroke-width="1.2" stroke-linecap="butt"/>
<rect x="514.8" y="244.64999999999998" width="4.8" height="9.8" rx="2.4" fill="none" stroke="#161616" stroke-width="2"/>
<line x1="517.2" y1="247.04999999999998" x2="517.2" y2="251.85" stroke="#161616" stroke-width="1.3" stroke-linecap="butt"/>
<circle cx="503.1" cy="249.45" r="2.0" fill="#161616" stroke="#161616" stroke-width="1.4"/>
<path d="M530.9,324 H490.8 V348.2 H530.9" fill="none" stroke="#161616" stroke-width="1.6" stroke-linejoin="miter" stroke-linecap="butt"/>
<path d="M530.9,327.2 H498.2 Q494.4,327.2 494.4,331 V341.2 Q494.4,345.0 498.2,345.0 H530.9" fill="none" stroke="#161616" stroke-width="2" stroke-linejoin="round" stroke-linecap="butt"/>
<line x1="512" y1="324.8" x2="512" y2="326.4" stroke="#fff" stroke-width="1.2" stroke-linecap="butt"/>
<line x1="518" y1="324.8" x2="518" y2="326.4" stroke="#fff" stroke-width="1.2" stroke-linecap="butt"/>
<line x1="524" y1="324.8" x2="524" y2="326.4" stroke="#fff" stroke-width="1.2" stroke-linecap="butt"/>
<rect x="514.8" y="331.3" width="4.8" height="9.8" rx="2.4" fill="none" stroke="#161616" stroke-width="2"/>
<line x1="517.2" y1="333.70000000000005" x2="517.2" y2="338.5" stroke="#161616" stroke-width="1.3" stroke-linecap="butt"/>
<circle cx="503.1" cy="336.1" r="2.0" fill="none" stroke="#161616" stroke-width="1.4"/>
<path d="M471,355.2 H510.6 V379.2 H471" fill="none" stroke="#161616" stroke-width="1.6" stroke-linejoin="miter" stroke-linecap="butt"/>
<path d="M471,358.4 H504 Q507.8,358.4 507.8,362.2 V372.4 Q507.8,376.2 504,376.2 H471" fill="none" stroke="#161616" stroke-width="2" stroke-linejoin="round" stroke-linecap="butt"/>
<line x1="480.5" y1="356.0" x2="480.5" y2="357.59999999999997" stroke="#fff" stroke-width="1.2" stroke-linecap="butt"/>
<line x1="480.5" y1="376.8" x2="480.5" y2="378.4" stroke="#fff" stroke-width="1.2" stroke-linecap="butt"/>
<line x1="486.5" y1="356.0" x2="486.5" y2="357.59999999999997" stroke="#fff" stroke-width="1.2" stroke-linecap="butt"/>
<line x1="486.5" y1="376.8" x2="486.5" y2="378.4" stroke="#fff" stroke-width="1.2" stroke-linecap="butt"/>
<rect x="481.8" y="362.2" width="4.8" height="10" rx="2.4" fill="none" stroke="#161616" stroke-width="2"/>
<line x1="484.2" y1="364.59999999999997" x2="484.2" y2="369.8" stroke="#161616" stroke-width="1.3" stroke-linecap="butt"/>
<circle cx="498.4" cy="367.2" r="2.0" fill="#161616" stroke="#161616" stroke-width="1.4"/>
<line x1="478.7" y1="405.2" x2="478.7" y2="425" stroke="#161616" stroke-width="2.2" stroke-linecap="butt"/>
<line x1="490.2" y1="405.2" x2="490.2" y2="425" stroke="#161616" stroke-width="2.2" stroke-linecap="butt"/>
<path d="M532,389.4 H533.6 Q535.2,389.4 535.2,391 V414.2 Q535.2,415.8 533.6,415.8 H532" fill="none" stroke="#161616" stroke-width="1.6" stroke-linejoin="round" stroke-linecap="butt"/>
<line x1="533.6" y1="391" x2="533.6" y2="414" stroke="#161616" stroke-width="1.2" stroke-linecap="butt"/>
<circle cx="474" cy="428.6" r="1.1" fill="#161616" stroke="#161616" stroke-width="0"/>
<circle cx="504.3" cy="428.6" r="1.1" fill="#161616" stroke="#161616" stroke-width="0"/>
<circle cx="525.8" cy="428.6" r="1.1" fill="#161616" stroke="#161616" stroke-width="0"/>
<path d="M503,429 Q503,431.5 506,431.5 Q515,432 517.5,441" fill="none" stroke="#161616" stroke-width="1.4" stroke-linejoin="round" stroke-linecap="butt"/>
<line x1="529.6" y1="427" x2="529.6" y2="440.5" stroke="#161616" stroke-width="1.4" stroke-linecap="butt"/>
<line x1="517" y1="440.6" x2="530" y2="440.6" stroke="#161616" stroke-width="1.4" stroke-linecap="butt"/>
<line x1="517.9" y1="441.9" x2="517.9" y2="489.5" stroke="#161616" stroke-width="2.6" stroke-linecap="butt"/>
<line x1="516.8" y1="441.9" x2="527" y2="441.9" stroke="#161616" stroke-width="2" stroke-linecap="butt"/>
<path d="M526.6,441 V490.6 H532.4 Q534.8,490.6 534.8,488.2 V444.4 Q534.8,442 532.4,442 H526.6" fill="none" stroke="#161616" stroke-width="2.3" stroke-linejoin="round" stroke-linecap="butt"/>
<line x1="530.8" y1="444" x2="530.8" y2="489" stroke="#9a9a9a" stroke-width="0.9" stroke-linecap="butt"/>
<rect x="517.4" y="478" width="8.6" height="14" rx="1.2" fill="#222" stroke="#161616" stroke-width="0"/>
<line x1="520.4" y1="482" x2="520.4" y2="489" stroke="#ddd" stroke-width="1.1" stroke-linecap="butt"/>
<line x1="523.4" y1="482" x2="523.4" y2="489" stroke="#ddd" stroke-width="1.1" stroke-linecap="butt"/>
<path d="M518,445.2 C500,445.5 476.2,462 476.2,486 V540" fill="none" stroke="#161616" stroke-width="1.7" stroke-linejoin="round" stroke-linecap="butt"/>
<line x1="518.3" y1="492" x2="518.3" y2="540" stroke="#161616" stroke-width="1.7" stroke-linecap="butt"/>
<path d="M473.9,541.8 H520.9" fill="none" stroke="#161616" stroke-width="2.8" stroke-linejoin="round" stroke-linecap="butt"/>
<path d="M474.1,541.7 Q472.5,542 472.5,544 V547.6 M520.6999999999999,541.7 Q522.3,542 522.3,544 V547.6" fill="none" stroke="#161616" stroke-width="1.5" stroke-linejoin="round" stroke-linecap="butt"/>
<polygon points="473.5,547.6 521.3,547.6 521.3,553 520.6999999999999,557.2 474.1,557.2 473.5,553" fill="#161616"/>
<path d="M467.5,560 V558.4 H521.6999999999999 V560" fill="none" stroke="#161616" stroke-width="2" stroke-linejoin="round" stroke-linecap="butt"/>
<path d="M468.5,559 V589 L469.9,594 M521.0999999999999,559 V589 L519.9,594" fill="none" stroke="#161616" stroke-width="1.6" stroke-linejoin="round" stroke-linecap="butt"/>
<line x1="468.5" y1="590.8" x2="521.0999999999999" y2="590.8" stroke="#161616" stroke-width="1.4" stroke-linecap="butt"/>
</svg>
</body></html>
